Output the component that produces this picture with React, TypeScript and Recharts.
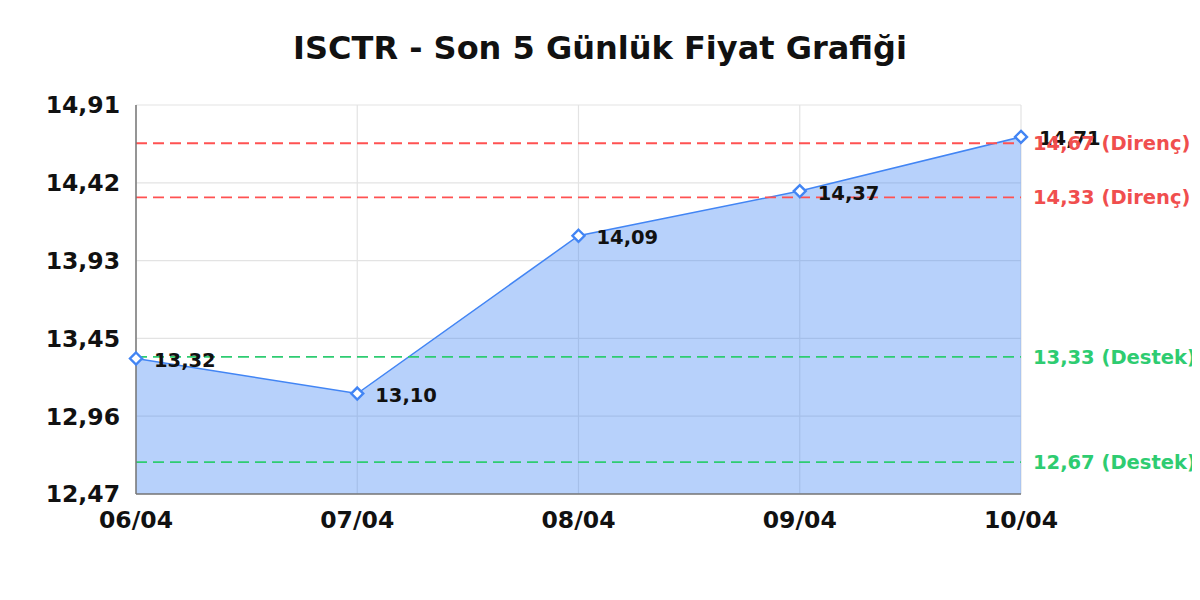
import React from 'react';
import {
  AreaChart,
  Area,
  XAxis,
  YAxis,
  CartesianGrid,
  ReferenceLine,
  LabelList,
} from 'recharts';

const dates = ['06/04', '07/04', '08/04', '09/04', '10/04'];
const prices = [13.32, 13.1, 14.09, 14.37, 14.71];
const yTicks = [12.47, 12.958, 13.446, 13.934, 14.422, 14.91];
const resistance = [14.67, 14.33];
const support = [13.33, 12.67];

const data = dates.map((d, i) => ({ date: d, price: prices[i] }));

const fmt = (v: number) => v.toFixed(2).replace('.', ',');

const FONT = '"DejaVu Sans", sans-serif';

const Diamond = (props: any) => {
  const { cx, cy } = props;
  if (cx == null || cy == null) return null;
  const r = 6;
  return (
    <path
      d={`M${cx},${cy - r} L${cx + r},${cy} L${cx},${cy + r} L${cx - r},${cy} Z`}
      fill="#ffffff"
      stroke="#4285f4"
      strokeWidth={2.4}
    />
  );
};

const ValueLabel = (props: any) => {
  const { x, y, value } = props;
  return (
    <text
      x={x + 18}
      y={y + 2}
      dominantBaseline="central"
      fontFamily={FONT}
      fontWeight="bold"
      fontSize={19.5}
      fill="#111111"
    >
      {fmt(value)}
    </text>
  );
};

export default function App() {
  return (
    <div style={{ position: 'relative', width: 1192, height: 584, fontFamily: FONT }}>
      <div
        style={{
          position: 'absolute',
          top: 21,
          left: 0,
          width: 1184,
          textAlign: 'center',
          fontSize: 32,
          fontWeight: 'bold',
          lineHeight: '38px',
          color: '#111',
          fontFamily: FONT,
        }}
      >
        ISCTR - Son 5 Günlük Fiyat Grafiği
      </div>
      <AreaChart
        width={1192}
        height={584}
        data={data}
        margin={{ top: 97, right: 179, left: 0, bottom: 68 }}
        style={{ overflow: 'visible' }}
      >
        <CartesianGrid stroke="#e3e3e3" strokeWidth={1.2} />
        <XAxis
          dataKey="date"
          axisLine={{ stroke: '#777777', strokeWidth: 1.5 }}
          tickLine={false}
          tickMargin={11}
          tick={{ fill: '#111', fontSize: 23.5, fontWeight: 'bold', fontFamily: FONT }}
          interval={0}
        />
        <YAxis
          width={128}
          domain={[12.47, 14.91]}
          ticks={yTicks}
          tickFormatter={fmt}
          axisLine={{ stroke: '#777777', strokeWidth: 1.5 }}
          tickLine={false}
          tickMargin={10}
          tick={{ fill: '#111', fontSize: 23.5, fontWeight: 'bold', fontFamily: FONT }}
          allowDataOverflow
        />
        <Area
          type="linear"
          dataKey="price"
          stroke="#4285f4"
          strokeWidth={1.5}
          fill="#4285f4"
          fillOpacity={0.38}
          dot={<Diamond />}
          activeDot={false}
          isAnimationActive={false}
          baseValue={12.47}
        >
          <LabelList dataKey="price" content={<ValueLabel />} />
        </Area>
        {resistance.map((v) => (
          <ReferenceLine
            key={`r${v}`}
            y={v}
            stroke="#ff5252"
            strokeWidth={1.8}
            strokeDasharray="11 6"
            label={{
              value: `${fmt(v)} (Direnç)`,
              position: 'right',
              offset: 12,
              fill: '#f04e4e',
              fontSize: 19.5,
              fontWeight: 'bold',
              fontFamily: FONT,
            }}
          />
        ))}
        {support.map((v) => (
          <ReferenceLine
            key={`s${v}`}
            y={v}
            stroke="#2ecc71"
            strokeWidth={1.8}
            strokeDasharray="11 6"
            label={{
              value: `${fmt(v)} (Destek)`,
              position: 'right',
              offset: 12,
              fill: '#2ecc71',
              fontSize: 19.5,
              fontWeight: 'bold',
              fontFamily: FONT,
            }}
          />
        ))}
      </AreaChart>
    </div>
  );
}
